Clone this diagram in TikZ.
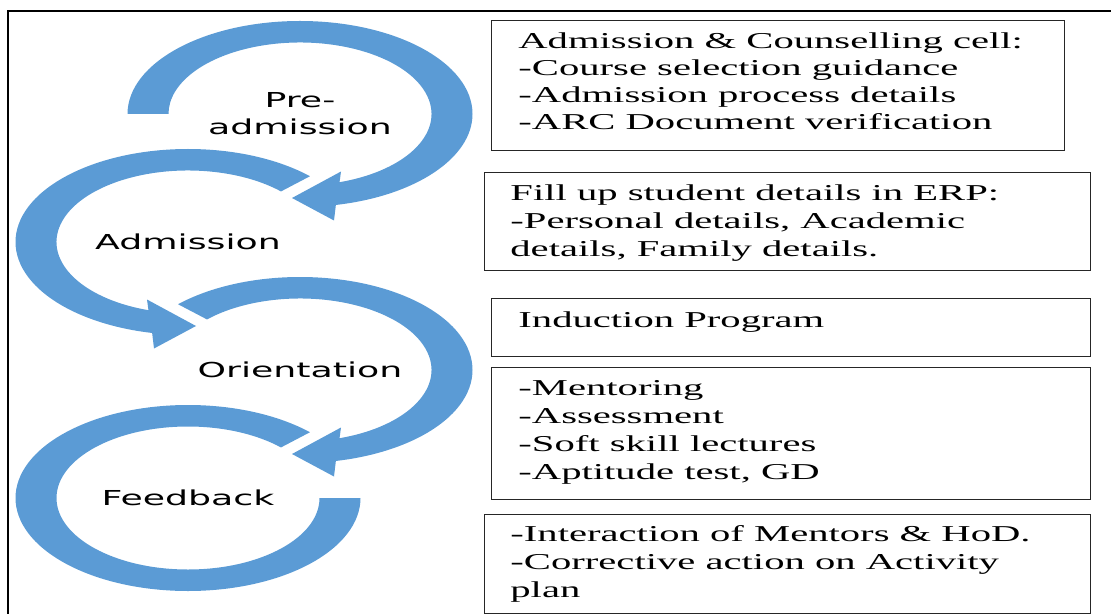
\documentclass[tikz,border=0pt]{standalone}
\usepackage{fontspec}
\newfontfamily\stagefont[FakeStretch=1.76]{DejaVu Sans}
\newfontfamily\notefont[FakeStretch=1.79]{Liberation Serif}
\definecolor{flowblue}{HTML}{5B9BD5}

\begin{document}
\begin{tikzpicture}[x=0.5pt,y=-0.5pt,
  flow/.style={fill=flowblue},
  stage/.style={font=\stagefont\fontsize{10.3}{13.5}\selectfont, align=center, inner sep=0pt},
  box/.style={draw=black!85, line width=0.6pt, anchor=north west, inner sep=0pt},
  note/.style={font=\notefont\fontsize{11.35}{14}\selectfont, align=left, anchor=north west, inner sep=0pt}]
  \useasboundingbox (0,0) rectangle (1111,614);
  \draw[line width=1pt] (1111,11) -- (8,11) -- (8,614);

  \coordinate (c1) at (300,114);
  \coordinate (c2) at (188,242);
  \coordinate (c3) at (300,370);
  \coordinate (c4) at (188,498);

  \foreach \c/\tail in {c1/180, c3/225} {
    \begin{scope}[shift={(\c)}]
      \fill[flow] (\tail:172.5 and 93) arc[start angle=\tail, end angle=438, x radius=172.5, y radius=93]
        -- (34,106.5) -- (-8,84) -- (41,57.5) -- (432.5:131.5 and 71.5)
        arc[start angle=432.5, end angle=\tail, x radius=131.5, y radius=71.5] -- cycle;
    \end{scope}
  }
  \begin{scope}[shift={(c2)}]
    \fill[flow] (315:172.5 and 93) arc[start angle=315, end angle=102, x radius=172.5, y radius=93]
      -- (-34,106.5) -- (8,84) -- (-41,57.5) -- (107.5:131.5 and 71.5)
      arc[start angle=107.5, end angle=315, x radius=131.5, y radius=71.5] -- cycle;
  \end{scope}
  \begin{scope}[shift={(c4)}]
    \fill[flow] (315:172.5 and 93) arc[start angle=315, end angle=0, x radius=172.5, y radius=93]
      -- (0:131.5 and 71.5) arc[start angle=0, end angle=315, x radius=131.5, y radius=71.5] -- cycle;
  \end{scope}

  \node[stage] (pre) at (c1) {Pre-\\admission};
  \node[stage] (adm) at (c2) {Admission};
  \node[stage] (ori) at (c3) {Orientation};
  \node[stage] (fee) at (c4) {Feedback};

  \foreach \n/\x/\y/\w/\h in {1/491/20/286.5/65, 2/484/172/303/49, 3/491/298/299.5/29,
      4/491/367/299.5/66, 5/484/514/303/49.5}
    \node[box, minimum width=\w pt, minimum height=\h pt] (box\n) at (\x,\y) {};

  \node[note, font=\notefont\fontsize{11.35}{13.4}\selectfont] (note1) at ([shift={(27,12.5)}]box1.north west)
    {Admission \& Counselling cell:\\-Course selection guidance\\-Admission process details\\-ARC Document verification};
  \node[note] (note2) at ([shift={(26,12.5)}]box2.north west)
    {Fill up student details in ERP:\\-Personal details, Academic\\details, Family details.};
  \node[note] (note3) at ([shift={(27,13)}]box3.north west) {Induction Program};
  \node[note] (note4) at ([shift={(27,13)}]box4.north west)
    {-Mentoring\\-Assessment\\-Soft skill lectures\\-Aptitude test, GD};
  \node[note] (note5) at ([shift={(26,11.5)}]box5.north west)
    {-Interaction of Mentors \& HoD.\\-Corrective action on Activity\\plan};
\end{tikzpicture}
\end{document}
